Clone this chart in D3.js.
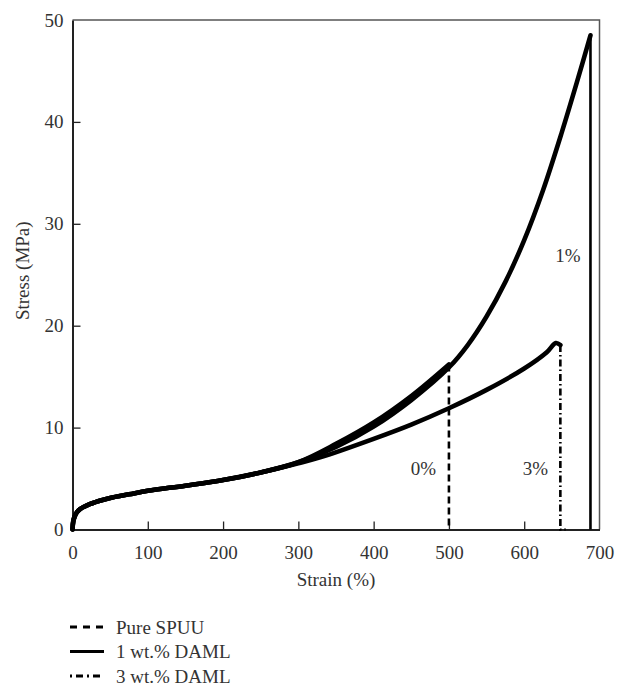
<html>

<head>
  <script src="https://d3js.org/d3.v7.min.js"></script>
  <style>
    body { margin: 0; background: #fff; }
    text { font-family: "Liberation Serif", "DejaVu Serif", serif; fill: #333; }
  </style>
</head>

<body>
  <svg id="chart" width="618" height="686"></svg>

  <script>
    // series data (strain %, stress MPa)
    const strainPure = [0, 1, 3, 6, 10, 20, 35, 50, 75, 100, 150, 200, 250, 300, 350, 400, 450, 500];
    const stressPure = [0, 0.8, 1.3, 1.7, 2.0, 2.4, 2.8, 3.1, 3.45, 3.8, 4.3, 4.85, 5.6, 6.6, 8.4, 10.5, 13.1, 16.2];

    const strain1 = [0, 1, 3, 6, 10, 20, 35, 50, 75, 100, 150, 200, 250, 300, 350, 400, 450, 500, 525, 550, 575, 600, 625, 650, 670, 688];
    const stress1 = [0, 0.8, 1.3, 1.7, 2.0, 2.4, 2.8, 3.1, 3.45, 3.8, 4.3, 4.85, 5.6, 6.6, 8.1, 10.1, 12.7, 15.9, 18.1, 20.9, 24.3, 28.4, 33.3, 39.0, 43.9, 48.5];

    const strain3 = [0, 1, 3, 6, 10, 20, 35, 50, 75, 100, 150, 200, 250, 300, 330, 400, 450, 500, 550, 600, 630, 642, 648];
    const stress3 = [0, 0.8, 1.3, 1.7, 2.0, 2.4, 2.8, 3.1, 3.45, 3.8, 4.3, 4.85, 5.6, 6.5, 7.1, 8.9, 10.3, 11.9, 13.7, 15.8, 17.4, 18.3, 18.1];

    const seriesNames = ["Pure SPUU", "1 wt.% DAML", "3 wt.% DAML"];
    const breakLabels = ["0%", "1%", "3%"];
    const labelStrain = [466, 658, 615];
    const labelStress = [5.35, 26.3, 5.35];
    const tailStrain = [500, 688, 655];

    const xTicks = [0, 100, 200, 300, 400, 500, 600, 700];
    const yTicks = [0, 10, 20, 30, 40, 50];

    const svg = d3.select("svg#chart");
    const margins = { top: 20, right: 18.5, bottom: 156.5, left: 72.5 };
    const width = +svg.attr("width");
    const height = +svg.attr("height");
    const chartWidth = width - margins.left - margins.right;
    const chartHeight = height - margins.top - margins.bottom;

    const xScale = d3.scaleLinear().domain([0, 700]).range([0, chartWidth]);
    const yScale = d3.scaleLinear().domain([0, 50]).range([chartHeight, 0]);

    const chartArea = svg.append("g")
      .attr("transform", `translate(${margins.left},${margins.top})`);

    // box (top and right sides lighter)
    chartArea.append("path")
      .attr("d", `M0,0H${chartWidth}V${chartHeight}`)
      .attr("fill", "none")
      .attr("stroke", "#555")
      .attr("stroke-width", 1.5);

    // axes with inward ticks
    let bottomAxis = d3.axisBottom(xScale).tickValues(xTicks).tickSizeInner(-8).tickSizeOuter(0).tickPadding(16);
    let bottomG = chartArea.append("g")
      .attr("class", "x axis")
      .attr("transform", `translate(0, ${chartHeight})`)
      .call(bottomAxis);

    let leftAxis = d3.axisLeft(yScale).tickValues(yTicks).tickSizeInner(-8).tickSizeOuter(0).tickPadding(9);
    let leftG = chartArea.append("g")
      .attr("class", "y axis")
      .call(leftAxis);

    [bottomG, leftG].forEach(g => {
      g.attr("font-family", null);
      g.select(".domain").attr("stroke", "#222").attr("stroke-width", 2);
      g.selectAll(".tick line").attr("stroke", "#222").attr("stroke-width", 1.3);
      g.selectAll(".tick text").attr("font-size", 19).attr("fill", "#333");
    });
    bottomG.selectAll(".tick").filter(d => d === 0 || d === 700).select("line").remove();
    leftG.selectAll(".tick").filter(d => d === 0 || d === 50).select("line").remove();

    // axis labels
    chartArea.append("text")
      .attr("text-anchor", "middle")
      .attr("font-size", 19)
      .attr("transform", `translate(${chartWidth / 2}, ${chartHeight + 56})`)
      .text("Strain (%)");

    chartArea.append("text")
      .attr("text-anchor", "middle")
      .attr("font-size", 19)
      .attr("transform", `translate(${-44}, ${chartHeight / 2 - 4}) rotate(-90)`)
      .text("Stress (MPa)");

    const curve = d3.line()
      .x(d => xScale(d[0]))
      .y(d => yScale(d[1]))
      .curve(d3.curveCatmullRom.alpha(0.5));

    const straight = d3.line()
      .x(d => xScale(d[0]))
      .y(d => yScale(d[1]));

    const series = [
      { x: strainPure, y: stressPure, dash: "7,4" },
      { x: strain1, y: stress1, dash: null },
      { x: strain3, y: stress3, dash: "7,3,1.5,3" }
    ];

    series.forEach((s, i) => {
      const pts = s.x.map((v, j) => [v, s.y[j]]);
      const last = pts[pts.length - 1];

      // break drop line
      chartArea.append("path")
        .attr("d", straight([last, [last[0], 0], [tailStrain[i], 0]]))
        .attr("fill", "none")
        .attr("stroke", "#000")
        .attr("stroke-width", 2.6)
        .attr("stroke-dasharray", s.dash);

      // measured curve (dense markers in the original, so drawn thick)
      chartArea.append("path")
        .attr("d", curve(pts))
        .attr("fill", "none")
        .attr("stroke", "#000")
        .attr("stroke-width", 4.6)
        .attr("stroke-linecap", "round")
        .attr("stroke-linejoin", "round");

      chartArea.append("text")
        .attr("x", xScale(labelStrain[i]))
        .attr("y", yScale(labelStress[i]))
        .attr("text-anchor", "middle")
        .attr("font-size", 19)
        .text(breakLabels[i]);
    });

    // legend below the plot
    const legend = svg.append("g").attr("transform", "translate(70, 627)");
    seriesNames.forEach((name, i) => {
      const row = legend.append("g").attr("transform", `translate(0, ${i * 24.5})`);
      row.append("line")
        .attr("x1", 0).attr("x2", 34)
        .attr("stroke", "#000")
        .attr("stroke-width", 2.8)
        .attr("stroke-dasharray", series[i].dash ? (i === 0 ? "7,6" : "2,4,7,4") : null);
      row.append("text")
        .attr("x", 46)
        .attr("y", 6.5)
        .attr("font-size", 19)
        .text(name);
    });
  </script>

</body>

</html>
